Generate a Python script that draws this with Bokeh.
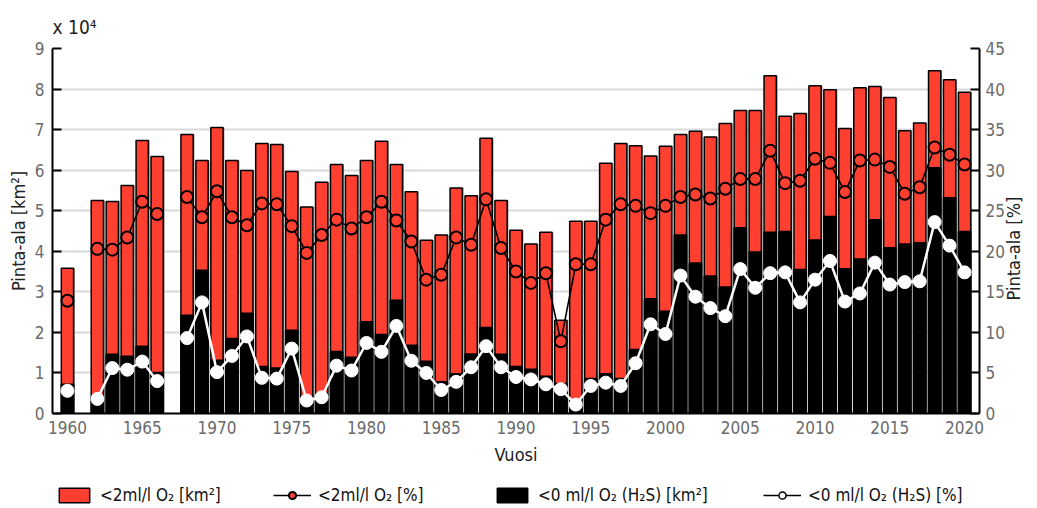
import math
from bokeh.plotting import figure
from bokeh.layouts import column
from bokeh.models import (ColumnDataSource, Range1d, LinearAxis, FixedTicker, Legend, LegendItem)
from bokeh.embed import file_html
from bokeh.resources import INLINE

NaN = float("nan")

years = list(range(1960, 2021))

# <2 ml/l O2 area, units of 10^4 km2
area_lt2 = [3.58, NaN, 5.25, 5.23, 5.62, 6.73, 6.34, NaN, 6.88, 6.24,
            7.05, 6.24, 5.99, 6.66, 6.63, 5.97, 5.09, 5.70, 6.14, 5.87,
            6.24, 6.71, 6.14, 5.47, 4.27, 4.40, 5.56, 5.37, 6.79, 5.25,
            4.52, 4.18, 4.47, 2.30, 4.74, 4.74, 6.17, 6.66, 6.60, 6.35,
            6.59, 6.88, 6.96, 6.82, 7.15, 7.47, 7.47, 8.33, 7.33, 7.40,
            8.08, 7.98, 7.03, 8.03, 8.06, 7.79, 6.97, 7.16, 8.45, 8.23,
            7.92]

# <0 ml/l O2 (H2S) area, units of 10^4 km2
area_h2s = [0.72, NaN, 0.40, 1.46, 1.41, 1.66, 1.01, NaN, 2.42, 3.53,
            1.31, 1.85, 2.47, 1.16, 1.12, 2.05, 0.30, 0.45, 1.53, 1.39,
            2.26, 1.95, 2.79, 1.68, 1.29, 0.78, 0.98, 1.47, 2.12, 1.46,
            1.16, 1.09, 0.92, 0.74, 0.20, 0.86, 0.98, 0.86, 1.58, 2.83,
            2.52, 4.40, 3.71, 3.39, 3.12, 4.58, 3.98, 4.47, 4.49, 3.55,
            4.28, 4.86, 3.57, 3.81, 4.78, 4.09, 4.18, 4.21, 6.06, 5.32,
            4.49]

# <2 ml/l O2 share, %
pct_lt2 = [13.9, NaN, 20.3, 20.2, 21.7, 26.1, 24.6, NaN, 26.7, 24.2,
           27.4, 24.2, 23.2, 25.9, 25.8, 23.1, 19.8, 22.0, 23.9, 22.8,
           24.2, 26.1, 23.8, 21.2, 16.5, 17.1, 21.7, 20.8, 26.4, 20.4,
           17.5, 16.1, 17.3, 8.9, 18.4, 18.4, 23.9, 25.8, 25.6, 24.7,
           25.6, 26.7, 27.0, 26.5, 27.7, 28.9, 28.9, 32.4, 28.4, 28.7,
           31.4, 30.9, 27.3, 31.2, 31.3, 30.4, 27.1, 27.9, 32.8, 31.9,
           30.7]

# <0 ml/l O2 (H2S) share, %
pct_h2s = [2.8, NaN, 1.8, 5.6, 5.4, 6.4, 4.0, NaN, 9.3, 13.7,
           5.1, 7.1, 9.5, 4.4, 4.3, 8.0, 1.6, 2.0, 5.9, 5.3,
           8.7, 7.6, 10.8, 6.5, 5.0, 2.9, 3.9, 5.7, 8.3, 5.7,
           4.5, 4.2, 3.6, 3.0, 1.1, 3.4, 3.8, 3.4, 6.2, 11.0,
           9.8, 17.0, 14.4, 13.0, 12.0, 17.8, 15.5, 17.3, 17.4, 13.7,
           16.5, 18.8, 13.8, 14.8, 18.6, 15.9, 16.2, 16.3, 23.6, 20.7,
           17.4]

left_ticks = list(range(0, 10))
right_ticks = list(range(0, 50, 5))
x_ticks = [1960, 1965, 1970, 1975, 1980, 1985, 1990, 1995, 2000, 2005, 2010, 2015, 2020]

labels = ["<2ml/l O\u2082 [km\u00b2]", "<2ml/l O\u2082 [%]",
          "<0 ml/l O\u2082 (H\u2082S) [km\u00b2]", "<0 ml/l O\u2082 (H\u2082S) [%]"]
right_label = "Pinta-ala [%]"

FONT = "DejaVu Sans Condensed, Roboto, sans-serif"
RED = "#ff3f30"
TICK_COLOR = "#6a6a6a"

src = ColumnDataSource(dict(
    year=years,
    year_sh=[y + 0.09 for y in years],
    area_lt2=area_lt2, area_h2s=area_h2s,
    pct_lt2=pct_lt2, pct_h2s=pct_h2s))

p = figure(width=1037, height=475, output_backend="svg", toolbar_location=None,
           x_range=Range1d(1959, 2021), y_range=Range1d(0, 9),
           min_border_left=52, min_border_right=51, min_border_top=48, min_border_bottom=62)
p.extra_y_ranges = {"pct": Range1d(0, 45)}
p.outline_line_color = None

p.title.text = "x 10\u2074"
p.title.align = "left"
p.title.text_font = FONT
p.title.text_font_size = "19px"
p.title.text_font_style = "normal"
p.title.text_color = "#222222"
p.title.standoff = 22

p.xgrid.grid_line_color = None
p.ygrid.grid_line_color = "#d9d9d9"
p.ygrid.grid_line_width = 2
p.ygrid.ticker = FixedTicker(ticks=left_ticks)

bw = 0.82
p.vbar(x="year_sh", top="area_lt2", width=bw, source=src, fill_color="#9a9a9a",
       line_color=None)
p.vbar(x="year", top="area_lt2", width=bw, source=src, fill_color=RED,
       line_color="black", line_width=1.5)
p.vbar(x="year", top="area_h2s", width=bw, source=src, fill_color="black",
       line_color="black", line_width=1.5)

p.line(x="year", y="pct_lt2", source=src, y_range_name="pct", line_color="black",
       line_width=1.6)
p.scatter(x="year", y="pct_lt2", source=src, y_range_name="pct", size=12,
          fill_color=RED, line_color="black", line_width=2)
p.line(x="year", y="pct_h2s", source=src, y_range_name="pct", line_color="white",
       line_width=2.5)
p.scatter(x="year", y="pct_h2s", source=src, y_range_name="pct", size=13,
          fill_color="white", line_color="white", line_width=1)

# axes
p.xaxis.ticker = FixedTicker(ticks=x_ticks)
p.xaxis.axis_label = "Vuosi"
p.yaxis.ticker = FixedTicker(ticks=left_ticks)
p.yaxis.axis_label = "Pinta-ala [km\u00b2]"

right = LinearAxis(y_range_name="pct", ticker=FixedTicker(ticks=right_ticks))
p.add_layout(right, "right")

for ax in [p.xaxis[0], p.yaxis[0], right]:
    ax.axis_line_color = "black"
    ax.axis_line_width = 2
    ax.major_label_text_font = FONT
    ax.major_label_text_font_size = "17px"
    ax.major_label_text_color = TICK_COLOR
    ax.axis_label_text_font = FONT
    ax.axis_label_text_font_size = "18px"
    ax.axis_label_text_font_style = "normal"
    ax.axis_label_text_color = "#222222"
    ax.minor_tick_line_color = None
    ax.major_tick_line_color = "black"
    ax.major_tick_line_width = 2
    ax.major_tick_in = 9
    ax.major_tick_out = 0

p.xaxis.major_tick_line_color = None
p.xaxis.major_label_standoff = 7
p.xaxis.axis_label_standoff = 7
p.yaxis.major_label_standoff = 8
p.yaxis.axis_label_standoff = 3
right.major_label_standoff = 6
right.axis_label_standoff = 6

# right-hand label, reading bottom-to-top like the left one
right_text = right_label
try:
    right.axis_label_orientation = math.pi / 2
    try:
        right.axis_label_align = "start"
        right_text = "\u00a0" * 22 + right_label
    except Exception:
        pass
except Exception:
    pass
right.axis_label = right_text

# legend strip (its frame is aligned with the main plot frame)
lf = figure(width=1037, height=33, output_backend="svg", toolbar_location=None,
            x_range=Range1d(0, 1), y_range=Range1d(0, 1), min_border=0,
            x_axis_location=None, y_axis_location=None)
lf.grid.visible = False
lf.outline_line_color = None
lr1 = lf.vbar(x=[NaN], top=[NaN], width=0.1, fill_color=RED, line_color="black",
              line_width=1.5)
lr2a = lf.line(x=[NaN], y=[NaN], line_color="black", line_width=1.6)
lr2b = lf.scatter(x=[NaN], y=[NaN], size=11, fill_color=RED, line_color="black",
                  line_width=2)
lr3 = lf.vbar(x=[NaN], top=[NaN], width=0.1, fill_color="black", line_color="black",
              line_width=1.5)
lr4a = lf.line(x=[NaN], y=[NaN], line_color="black", line_width=1.6)
lr4b = lf.scatter(x=[NaN], y=[NaN], size=11, fill_color="white", line_color="black",
                  line_width=1.5)

legend_items = [
    (labels[0], [lr1], 3),
    (labels[1], [lr2a, lr2b], 221),
    (labels[2], [lr3], 441),
    (labels[3], [lr4a, lr4b], 711),
]
for lab, rends, xpos in legend_items:
    lg = Legend(items=[LegendItem(label=lab, renderers=rends)], location=(xpos, 3))
    lg.label_text_font = FONT
    lg.label_text_font_size = "17px"
    lg.label_text_color = "#111111"
    lg.glyph_width = 38
    lg.glyph_height = 18
    lg.label_standoff = 7
    lg.border_line_color = None
    lg.background_fill_alpha = 0
    lg.padding = 2
    lg.margin = 0
    lf.add_layout(lg, "center")

layout = column(p, lf, spacing=0)
open("out.html", "w").write(file_html(layout, INLINE))
